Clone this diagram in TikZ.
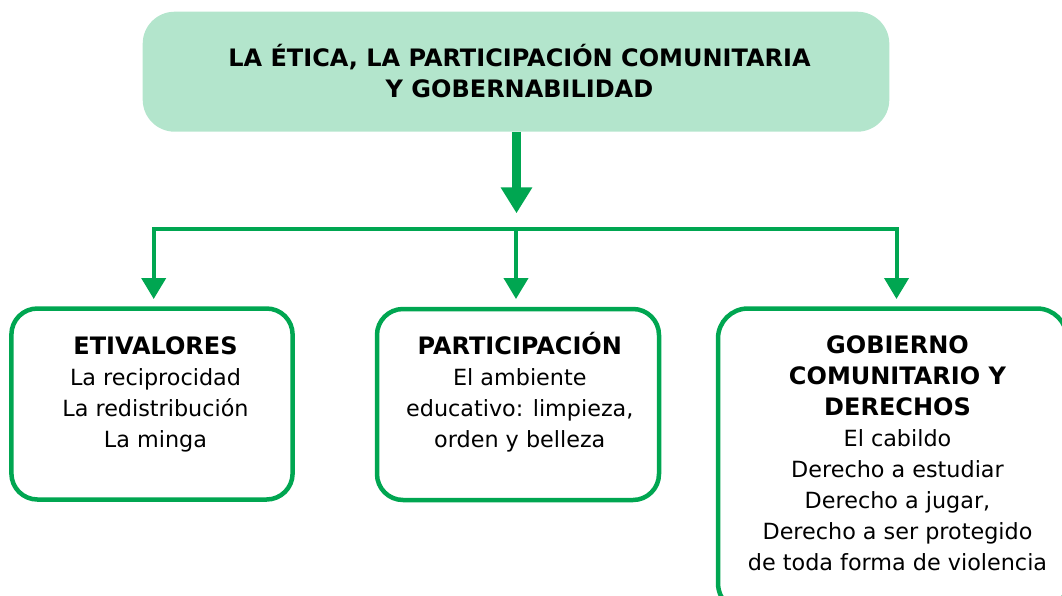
\documentclass[tikz,border=0pt]{standalone}
\usepackage{fontspec}
\setmainfont{DejaVu Sans}
\usetikzlibrary{arrows.meta}
\definecolor{grn}{RGB}{0,166,81}
\definecolor{lgrn}{RGB}{179,229,204}
\begin{document}
\begin{tikzpicture}[x=1pt,y=-1pt,
  topbox/.style={fill=lgrn, rounded corners=32pt, minimum width=746.6pt, minimum height=120pt, inner sep=0pt},
  subbox/.style={draw=grn, line width=4.5pt, rounded corners=26pt, inner sep=0pt, fill=white},
  titletxt/.style={align=center, font=\fontsize{24}{31}\selectfont\bfseries, inner sep=0pt},
  bodytxt/.style={align=center, font=\fontsize{22.3}{31}\selectfont, inner sep=0pt},
  conn/.style={draw=grn, line width=4pt},
  smalltip/.style={-{Triangle[length=21pt,width=24pt]}},
  bigarrow/.style={draw=grn, line width=8.4pt, -{Triangle[length=26pt,width=30pt]}}
]
\path[use as bounding box] (0,0) rectangle (1062,595);
\clip (0,0) rectangle (1062,595);

% top box
\node[topbox] (top) at (516,71.7) {};
\node[titletxt] (title) at (519.5,71) {LA ÉTICA, LA PARTICIPACIÓN COMUNITARIA\\Y GOBERNABILIDAD};

% sub boxes
\node[subbox, minimum width=281.2pt, minimum height=191pt] (b1) at (152,404) {};
\node[subbox, minimum width=282pt, minimum height=191pt] (b2) at (518,404.5) {};
\node[subbox, rounded corners=30pt, minimum width=349pt, minimum height=304.5pt] (b3) at (892.5,460.75) {};

\node[bodytxt] (t1) at (155.5,394.4) {{\fontsize{24}{31}\selectfont\bfseries ETIVALORES}\\La reciprocidad\\La redistribución\\La minga};
\node[bodytxt] (t2) at (519.8,392) {{\fontsize{24}{31}\selectfont\bfseries PARTICIPACIÓN}\\El ambiente\\educativo: limpieza,\\orden y belleza};
\node[bodytxt] (t3) at (897.5,453) {{\fontsize{24}{31}\selectfont\bfseries GOBIERNO}\\{\fontsize{24}{31}\selectfont\bfseries COMUNITARIO Y}\\{\fontsize{24}{31}\selectfont\bfseries DERECHOS}\\El cabildo\\Derecho a estudiar\\Derecho a jugar,\\Derecho a ser protegido\\de toda forma de violencia};

% connectors
\coordinate (bigend) at (516.5,213.3);
\coordinate (j1) at (153.7,228.7);
\coordinate (j2) at (516,228.7);
\coordinate (j3) at (896.5,228.7);
\coordinate (e1) at (153.7,299);
\coordinate (e2) at (516,299);
\coordinate (e3) at (896.5,299);

\draw[bigarrow] (top.south -| bigend) -- (bigend);
\draw[conn, {Triangle[length=21pt,width=24pt]}-{Triangle[length=21pt,width=24pt]}, line join=miter] (e1) -- (j1) -- (j3) -- (e3);
\draw[conn, smalltip] (j2) -- (e2);
\end{tikzpicture}
\end{document}
